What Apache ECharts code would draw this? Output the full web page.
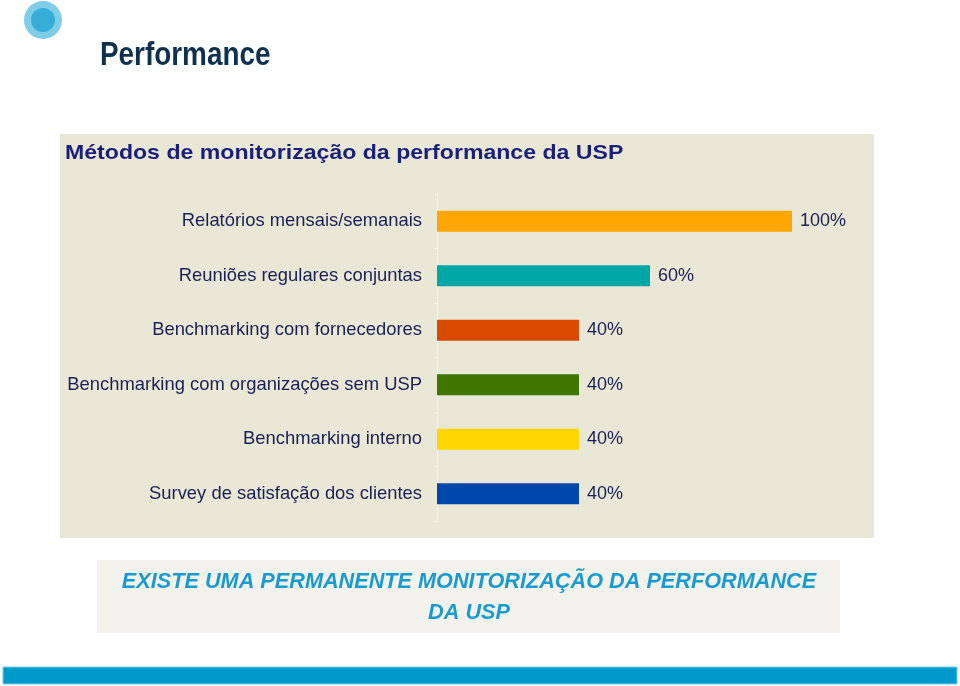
<!DOCTYPE html>
<html>
<head>
<meta charset="utf-8">
<script src="https://cdn.jsdelivr.net/npm/echarts@6/dist/echarts.min.js"></script>
<style>html,body{margin:0;padding:0;background:#fff}#c{width:960px;height:686px}</style>
</head>
<body>
<div id="c"></div>
<script>
var categories = [
  "Relatórios mensais/semanais",
  "Reuniões regulares conjuntas",
  "Benchmarking com fornecedores",
  "Benchmarking com organizações sem USP",
  "Benchmarking interno",
  "Survey de satisfação dos clientes"
];
var values = [100, 60, 40, 40, 40, 40];
var barColors = ["#ffa500", "#00a7a7", "#d94a00", "#3e7600", "#ffd700", "#0047ab"];
var pageTitle = "Performance";
var chartTitle = "Métodos de monitorização da performance da USP";
var conclusion = "EXISTE UMA PERMANENTE MONITORIZAÇÃO DA PERFORMANCE\nDA USP";

var chart = echarts.init(document.getElementById('c'), null, {renderer: 'canvas'});
var data = values.map(function (v, i) { return {value: v, itemStyle: {color: barColors[i]}}; });
chart.setOption({
  backgroundColor: '#ffffff',
  animation: false,
  graphic: [
    {type: 'circle', shape: {cx: 43, cy: 20, r: 19}, style: {fill: '#80cde8'}, z: 0},
    {type: 'circle', shape: {cx: 43, cy: 20, r: 12}, style: {fill: '#38acd8'}, z: 0},
    {type: 'text', x: 100, y: 39, scaleX: 0.82, style: {text: pageTitle, font: 'bold 34px "Liberation Sans", Arial, sans-serif', fill: '#0e3150'}, z: 1},
    {type: 'rect', shape: {x: 60, y: 134, width: 814, height: 404}, style: {fill: '#e9e7d6'}, z: -10},
    {type: 'text', x: 65, y: 143, scaleX: 1.1, style: {text: chartTitle, font: 'bold 21px "Liberation Sans", Arial, sans-serif', fill: '#1a1f7c'}, z: 1},
    {type: 'rect', shape: {x: 97, y: 560, width: 743, height: 73}, style: {fill: '#f3f2ec'}, z: -10},
    {type: 'text', x: 469, y: 566, scaleX: 0.985, style: {text: conclusion, textAlign: 'center', font: 'italic bold 22px "Liberation Sans", Arial, sans-serif', fill: '#1a9bd0', lineHeight: 31}, z: 1},
    {type: 'rect', shape: {x: 3, y: 667, width: 954, height: 17}, style: {fill: '#0099cc', stroke: '#6fd3e6', lineWidth: 1}, z: 0}
  ],
  grid: {left: 437, right: 168, top: 194, height: 327, containLabel: false},
  xAxis: {type: 'value', min: 0, max: 100, show: false},
  yAxis: {
    type: 'category', data: categories, inverse: true,
    axisLine: {show: true, lineStyle: {color: '#f6f5ee', width: 1}},
    axisTick: {show: true, length: 3, lineStyle: {color: '#f6f5ee'}},
    axisLabel: {margin: 15, fontSize: 18.4, color: '#1c1f55', fontFamily: '"Liberation Sans", Arial, sans-serif'}
  },
  series: [{
    type: 'bar', data: data, barWidth: 21,
    label: {show: true, position: 'right', distance: 8, formatter: '{c}%', fontSize: 18, color: '#1c1f55', fontFamily: '"Liberation Sans", Arial, sans-serif'}
  }]
});
</script>
</body>
</html>
